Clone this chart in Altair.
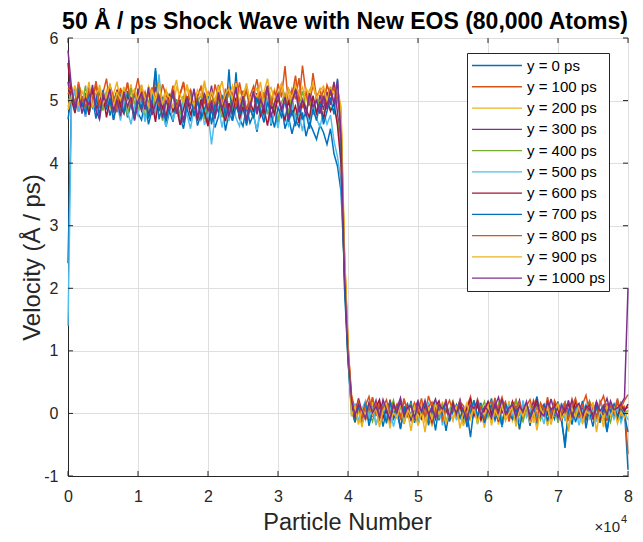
import altair as alt
import pandas as pd

# ---------------- series meta ----------------
series_names = ["y = 0 ps", "y = 100 ps", "y = 200 ps", "y = 300 ps", "y = 400 ps",
                "y = 500 ps", "y = 600 ps", "y = 700 ps", "y = 800 ps", "y = 900 ps",
                "y = 1000 ps"]
series_colors = ["#0072BD", "#D95319", "#EDB120", "#7E2F8E", "#77AC30", "#4DBEEE",
                 "#A2142F", "#0072BD", "#D95319", "#EDB120", "#7E2F8E"]

x_ticks = [0, 10000, 20000, 30000, 40000, 50000, 60000, 70000, 80000]
y_ticks = [-1, 0, 1, 2, 3, 4, 5, 6]

# value at particle 0, at the shock front (3.95e4 and 4.0e4) and at particle 80000
start_values = [2.40, 5.10, 4.90, 5.30, 5.00, 1.40, 5.60, 4.70, 5.20, 4.85, 5.80]
front_values = [2.30, 2.50, 2.60, 2.20, 2.10, 2.40, 2.20, 2.00, 2.45, 2.55, 2.25]
foot_values = [0.95, 1.05, 1.10, 0.90, 0.85, 0.90, 1.00, 0.85, 1.10, 1.15, 0.95]
end_values = [-0.90, -0.65, 0.00, 0.10, 0.05, -0.10, 0.15, -0.30, 0.30, 0.05, 2.00]

# ---------------- shocked region (0.05e4 .. 3.9e4) ----------------
upper_0 = [5.05, 4.82, 5.21, 4.90, 5.12, 4.78, 5.03, 4.71, 5.18, 4.88, 5.07, 4.76, 4.99, 5.15, 4.84, 5.02, 4.73, 4.95, 5.10, 4.80,
           4.69, 4.98, 4.62, 4.85, 5.47, 4.70, 4.91, 4.58, 4.83, 4.66, 5.02, 4.74, 4.55, 4.88, 4.67, 4.97, 4.60, 4.79, 5.08, 4.63,
           4.86, 4.57, 4.75, 4.94, 4.52, 4.81, 4.68, 5.45, 4.71, 4.59, 4.90, 4.64, 4.78, 4.50, 4.87, 4.69, 5.01, 4.60, 4.83, 4.66,
           4.92, 4.55, 4.74, 4.47, 4.70, 4.58, 4.81, 4.43, 4.65, 4.52, 4.38, 4.61, 4.49, 4.30, 4.55, 4.15, 3.95, 3.55]
upper_1 = [5.22, 4.91, 5.30, 5.02, 4.85, 5.18, 4.96, 5.27, 4.88, 5.12, 5.35, 4.93, 5.08, 4.81, 5.20, 5.01, 5.29, 4.90, 5.14, 4.98,
           5.25, 4.86, 5.11, 4.95, 5.32, 5.04, 4.83, 5.17, 4.99, 5.24, 4.89, 5.09, 5.28, 4.92, 5.15, 4.84, 5.06, 5.21, 4.97, 5.13,
           4.87, 5.26, 5.03, 4.90, 5.19, 4.80, 5.10, 5.31, 4.94, 5.16, 4.85, 5.07, 5.23, 4.96, 5.12, 4.82, 5.20, 5.00, 4.91, 5.27,
           5.05, 5.55, 4.93, 5.18, 5.02, 5.36, 4.88, 5.14, 4.97, 5.25, 5.04, 4.86, 5.19, 5.01, 5.22, 4.95, 5.10, 4.60]
upper_2 = [5.12, 4.95, 5.28, 5.03, 4.88, 5.21, 5.07, 4.92, 5.25, 5.00, 5.16, 4.86, 5.10, 5.30, 4.97, 5.14, 5.02, 5.26, 4.91, 5.18,
           5.05, 4.89, 5.23, 5.11, 4.94, 5.29, 5.01, 5.17, 4.87, 5.13, 5.33, 4.98, 5.08, 5.22, 4.93, 5.15, 5.04, 4.90, 5.27, 5.06,
           5.19, 4.96, 5.12, 5.31, 4.99, 5.09, 5.24, 4.92, 5.16, 5.03, 5.28, 4.95, 5.11, 5.20, 4.88, 5.14, 5.35, 5.02, 5.18, 4.97,
           5.25, 5.07, 5.13, 4.94, 5.29, 5.10, 5.21, 5.00, 5.17, 5.26, 5.05, 5.19, 4.98, 5.23, 5.12, 5.28, 5.15, 4.85]
upper_3 = [4.95, 5.18, 4.82, 5.07, 4.74, 5.21, 4.90, 5.12, 4.78, 5.02, 4.87, 5.26, 4.69, 5.09, 4.93, 5.16, 4.80, 5.04, 4.72, 5.19,
           4.88, 5.10, 4.76, 4.97, 5.22, 4.84, 5.05, 4.70, 4.99, 5.14, 4.79, 5.01, 4.65, 4.92, 5.17, 4.83, 5.06, 4.73, 5.11, 4.89,
           5.24, 4.77, 5.00, 4.86, 5.13, 4.71, 4.96, 5.20, 4.81, 5.08, 4.67, 4.94, 5.15, 4.85, 5.03, 4.75, 5.18, 4.91, 4.78, 5.10,
           4.83, 5.06, 4.72, 4.98, 5.21, 4.87, 5.02, 4.76, 5.12, 4.90, 4.80, 5.09, 4.85, 5.14, 4.93, 5.30, 4.80, 4.30]
upper_4 = [5.08, 4.86, 5.15, 4.93, 5.24, 4.80, 5.04, 4.91, 5.19, 4.84, 5.11, 4.97, 4.79, 5.13, 4.90, 5.06, 4.75, 5.20, 4.95, 4.83,
           5.09, 4.72, 4.98, 5.16, 4.87, 5.03, 4.68, 4.94, 5.12, 4.81, 5.00, 4.74, 5.07, 4.89, 5.18, 4.77, 4.96, 5.10, 4.70, 4.99,
           5.14, 4.85, 5.02, 4.73, 4.92, 5.17, 4.82, 5.05, 4.76, 4.95, 5.21, 4.88, 4.71, 5.01, 4.90, 5.13, 4.78, 5.04, 4.86, 4.69,
           4.97, 5.11, 4.80, 5.06, 4.74, 4.93, 5.15, 4.84, 5.00, 4.77, 5.08, 4.89, 4.73, 5.02, 4.87, 4.85, 4.70, 4.20]
upper_5 = [4.95, 5.16, 4.82, 5.05, 4.74, 5.12, 4.88, 4.99, 4.71, 5.08, 4.85, 5.20, 4.77, 4.96, 4.68, 5.02, 4.83, 4.62, 4.91, 4.76,
           5.04, 4.66, 4.89, 5.10, 4.73, 5.42, 4.80, 4.58, 4.93, 4.70, 4.86, 4.64, 5.00, 4.78, 4.55, 4.87, 4.69, 4.95, 4.61, 4.81,
           4.30, 4.74, 4.92, 4.57, 4.84, 4.67, 5.03, 4.72, 4.59, 4.88, 4.65, 4.97, 4.76, 4.53, 4.85, 4.70, 5.05, 4.63, 4.82, 4.56,
           4.90, 4.73, 4.60, 4.94, 4.68, 4.79, 4.51, 4.86, 4.66, 4.98, 4.71, 4.58, 4.83, 4.62, 4.77, 4.35, 4.10, 3.70]
upper_6 = [5.02, 4.80, 5.14, 4.92, 5.06, 4.77, 5.19, 4.88, 4.99, 5.11, 4.73, 5.03, 4.86, 5.17, 4.91, 4.79, 5.08, 4.95, 4.70, 5.01,
           4.84, 5.13, 4.75, 4.97, 4.66, 5.05, 4.89, 4.72, 5.10, 4.83, 4.94, 4.61, 4.87, 5.07, 4.76, 4.98, 4.68, 5.02, 4.81, 4.59,
           4.93, 4.74, 5.09, 4.85, 4.67, 4.96, 4.78, 5.04, 4.71, 4.90, 4.63, 4.99, 4.82, 5.12, 4.75, 4.88, 4.60, 4.95, 4.79, 5.06,
           4.84, 4.69, 5.00, 4.77, 4.91, 4.64, 5.03, 4.86, 4.73, 5.08, 4.80, 4.97, 4.70, 5.01, 4.83, 4.95, 4.60, 4.00]
upper_7 = [5.10, 4.85, 5.22, 4.96, 4.78, 5.13, 4.90, 5.05, 4.74, 5.17, 4.88, 5.01, 4.69, 4.94, 5.08, 4.80, 5.15, 4.92, 4.76, 5.03,
           4.87, 5.12, 4.71, 4.97, 5.52, 4.83, 5.06, 4.67, 4.93, 5.10, 4.79, 4.99, 4.64, 4.90, 5.14, 4.75, 5.00, 4.70, 4.86, 5.07,
           4.62, 4.95, 4.81, 5.09, 4.73, 5.50, 4.68, 4.91, 4.77, 5.04, 4.60, 4.88, 4.72, 5.06, 4.84, 4.65, 4.98, 4.79, 4.57, 4.89,
           4.74, 5.02, 4.66, 4.85, 4.59, 4.92, 4.71, 4.80, 4.55, 4.87, 4.68, 4.96, 4.62, 4.83, 5.05, 4.78, 5.35, 4.40]
upper_8 = [5.15, 4.93, 5.27, 5.04, 4.89, 5.19, 5.00, 5.31, 4.91, 5.12, 4.97, 5.24, 5.06, 4.87, 5.17, 5.02, 5.28, 4.94, 5.10, 5.36,
           4.99, 5.14, 4.88, 5.21, 5.05, 4.92, 5.26, 5.09, 4.95, 5.18, 4.86, 5.11, 5.30, 4.98, 5.16, 4.90, 5.07, 5.22, 5.01, 4.85,
           5.13, 4.96, 5.25, 5.03, 4.89, 5.20, 5.08, 4.93, 5.29, 5.00, 5.15, 4.87, 5.11, 5.34, 4.97, 5.06, 5.23, 4.91, 5.14, 5.02,
           5.27, 4.95, 5.19, 5.07, 5.40, 4.98, 5.56, 5.10, 4.92, 5.44, 5.05, 5.17, 4.94, 5.25, 5.09, 5.20, 5.03, 4.70]
upper_9 = [5.06, 5.24, 4.92, 5.15, 5.01, 5.30, 4.89, 5.11, 5.20, 4.95, 5.07, 5.27, 4.90, 5.13, 5.02, 5.22, 4.87, 5.09, 5.18, 4.98,
           5.25, 5.04, 4.91, 5.16, 5.00, 5.29, 4.94, 5.12, 5.05, 4.88, 5.21, 5.10, 4.97, 5.26, 5.03, 4.93, 5.17, 5.08, 5.32, 4.96,
           5.14, 5.00, 5.23, 4.90, 5.11, 5.19, 5.02, 5.28, 4.95, 5.09, 5.24, 4.99, 5.13, 5.06, 5.30, 4.92, 5.15, 5.21, 5.01, 5.10,
           5.27, 4.98, 5.18, 5.05, 5.24, 5.12, 4.97, 5.20, 5.08, 5.29, 5.03, 5.16, 5.23, 5.00, 5.19, 5.10, 5.18, 4.90]
upper_10 = [5.20, 4.88, 5.11, 4.79, 5.04, 4.93, 5.25, 4.84, 4.70, 5.09, 4.96, 5.18, 4.81, 5.02, 4.75, 5.14, 4.90, 5.06, 4.68, 4.99,
            5.12, 4.86, 5.21, 4.77, 4.95, 5.08, 4.72, 5.00, 4.85, 5.16, 4.80, 4.97, 4.66, 5.05, 4.89, 5.19, 4.74, 4.93, 5.10, 4.83,
            4.98, 4.71, 5.13, 4.87, 5.03, 4.76, 4.94, 5.22, 4.82, 5.07, 4.69, 4.91, 5.15, 4.78, 5.01, 4.88, 5.24, 4.73, 4.96, 5.11,
            4.84, 5.06, 4.70, 4.99, 5.17, 4.81, 5.02, 4.75, 5.12, 4.90, 5.00, 4.79, 5.08, 4.86, 5.18, 4.95, 5.32, 4.45]

# ---------------- unshocked region (4.05e4 .. 7.95e4) ----------------
lower_0 = [0.22, -0.05, 0.15, -0.18, 0.08, -0.12, 0.25, -0.02, 0.11, -0.21, 0.05, 0.18, -0.09, 0.02, -0.25, 0.12, -0.04, 0.20, -0.15, 0.07,
           -0.08, 0.16, -0.19, 0.03, 0.21, -0.11, 0.09, -0.28, 0.04, 0.14, -0.06, 0.19, -0.17, 0.01, -0.38, 0.10, -0.03, 0.17, -0.13, 0.06,
           0.24, -0.10, 0.08, -0.22, 0.13, -0.01, 0.19, -0.14, 0.05, -0.07, 0.15, -0.20, 0.09, 0.27, -0.05, 0.12, -0.16, 0.03, -0.09, 0.18,
           -0.12, -0.48, 0.06, -0.18, 0.14, -0.03, 0.20, -0.24, 0.07, -0.08, 0.16, -0.15, 0.04, -0.30, 0.11, -0.06, 0.21, -0.10, 0.05]
lower_1 = [0.30, 0.05, 0.21, -0.08, 0.14, 0.02, 0.26, -0.04, 0.17, 0.08, -0.12, 0.22, 0.01, 0.15, -0.06, 0.24, 0.03, 0.12, -0.10, 0.19,
           0.06, -0.03, 0.28, 0.09, -0.07, 0.16, 0.00, 0.23, -0.11, 0.13, 0.04, 0.20, -0.05, 0.11, 0.27, -0.02, 0.18, 0.07, -0.09, 0.14,
           0.01, 0.25, -0.06, 0.10, 0.19, -0.13, 0.08, 0.22, -0.01, 0.15, 0.03, -0.08, 0.21, 0.06, 0.12, -0.04, 0.26, 0.02, 0.16, -0.10,
           0.09, 0.18, -0.03, 0.23, 0.05, -0.07, 0.14, 0.29, 0.01, 0.11, -0.05, 0.20, 0.07, -0.12, 0.15, 0.03, 0.24, -0.02, 0.10]
lower_2 = [0.10, -0.15, 0.05, -0.22, 0.12, -0.06, 0.18, -0.19, 0.02, -0.10, 0.15, -0.24, 0.07, -0.03, 0.13, -0.17, 0.04, -0.28, 0.09, -0.08,
           0.16, -0.13, 0.01, -0.21, 0.11, -0.05, 0.19, -0.16, 0.06, -0.11, 0.14, -0.02, -0.20, 0.08, -0.09, 0.17, -0.14, 0.03, -0.23, 0.10,
           -0.04, 0.13, -0.18, 0.05, -0.07, 0.20, -0.12, 0.02, -0.26, 0.09, -0.01, 0.15, -0.15, 0.04, -0.09, 0.12, -0.20, 0.07, -0.03, 0.16,
           -0.11, 0.01, -0.29, 0.08, -0.06, 0.14, -0.17, 0.03, -0.08, 0.18, -0.13, 0.06, -0.22, 0.10, -0.04, 0.12, -0.10, 0.05, -0.02]
lower_3 = [0.18, -0.02, 0.24, 0.03, -0.10, 0.15, 0.06, 0.21, -0.07, 0.12, 0.01, 0.19, -0.05, 0.09, 0.25, -0.01, 0.14, -0.09, 0.08, 0.20,
           0.02, 0.16, -0.06, 0.11, 0.23, -0.03, 0.07, 0.17, -0.08, 0.13, 0.04, 0.22, -0.04, 0.10, 0.18, 0.00, 0.15, -0.11, 0.06, 0.19,
           -0.02, 0.12, 0.26, 0.01, 0.09, -0.07, 0.17, 0.05, 0.21, -0.05, 0.11, 0.02, 0.18, -0.09, 0.08, 0.14, -0.01, 0.23, 0.03, 0.10,
           -0.06, 0.16, 0.04, 0.20, -0.03, 0.12, 0.07, -0.10, 0.15, 0.01, 0.19, -0.04, 0.09, 0.24, 0.02, 0.13, -0.07, 0.17, 0.06]
lower_4 = [0.08, -0.11, 0.14, -0.04, 0.19, 0.02, -0.13, 0.10, -0.02, 0.17, -0.08, 0.06, 0.21, -0.05, 0.12, -0.16, 0.04, 0.15, -0.09, 0.07,
           -0.01, 0.18, -0.12, 0.09, 0.03, -0.07, 0.16, -0.14, 0.05, 0.20, -0.03, 0.11, -0.10, 0.08, 0.01, 0.14, -0.17, 0.06, 0.19, -0.06,
           0.10, -0.02, 0.16, -0.11, 0.04, 0.13, -0.08, 0.22, 0.00, -0.13, 0.09, 0.05, -0.06, 0.17, -0.10, 0.07, 0.12, -0.04, 0.15, -0.15,
           0.03, 0.18, -0.07, 0.10, -0.01, 0.14, -0.12, 0.06, 0.20, -0.05, 0.08, -0.09, 0.13, 0.02, -0.14, 0.11, -0.03, 0.16, 0.01]
lower_5 = [-0.03, 0.16, -0.12, 0.07, 0.20, -0.08, 0.11, -0.18, 0.04, 0.14, -0.06, 0.09, -0.21, 0.02, 0.17, -0.10, 0.06, -0.01, 0.13, -0.15,
           0.08, -0.04, 0.18, -0.09, 0.03, 0.12, -0.19, 0.05, -0.02, 0.15, -0.11, 0.10, 0.01, -0.16, 0.07, 0.19, -0.05, 0.11, -0.13, 0.04,
           0.16, -0.07, 0.09, -0.20, 0.02, 0.13, -0.03, 0.08, -0.14, 0.21, -0.06, 0.05, 0.12, -0.10, 0.03, -0.17, 0.14, 0.00, 0.09, -0.08,
           0.17, -0.12, 0.06, -0.02, 0.11, -0.19, 0.04, 0.15, -0.07, 0.08, -0.13, 0.18, 0.01, -0.05, 0.12, -0.09, 0.07, -0.15, 0.03]
lower_6 = [0.12, -0.06, 0.18, 0.02, -0.09, 0.15, -0.03, 0.10, 0.22, -0.07, 0.06, -0.12, 0.14, 0.01, 0.19, -0.05, 0.08, -0.10, 0.16, 0.03,
           -0.08, 0.13, 0.05, -0.14, 0.11, 0.20, -0.02, 0.07, -0.11, 0.17, 0.00, 0.12, -0.06, 0.09, 0.23, -0.04, 0.14, -0.09, 0.06, 0.18,
           -0.01, 0.10, -0.13, 0.15, 0.04, -0.07, 0.19, 0.02, 0.11, -0.05, 0.16, -0.10, 0.08, 0.21, -0.03, 0.13, 0.01, -0.08, 0.17, 0.05,
           -0.12, 0.09, 0.14, -0.04, 0.20, 0.03, -0.09, 0.12, 0.06, -0.02, 0.18, -0.11, 0.07, 0.15, 0.00, 0.10, -0.06, 0.13, 0.04]
lower_7 = [0.06, -0.14, 0.11, -0.05, 0.17, -0.20, 0.03, 0.13, -0.09, 0.08, -0.16, 0.19, -0.02, 0.10, -0.24, 0.05, 0.15, -0.07, 0.12, -0.18,
           0.02, 0.16, -0.10, 0.07, -0.27, 0.11, -0.03, 0.18, -0.13, 0.04, 0.14, -0.08, 0.09, -0.22, 0.01, 0.21, -0.06, 0.10, -0.15, 0.05,
           0.13, -0.11, 0.07, -0.19, 0.16, 0.00, -0.09, 0.12, -0.25, 0.06, 0.17, -0.04, 0.09, -0.16, 0.03, 0.14, -0.12, 0.08, -0.02, 0.19,
           -0.07, -0.55, 0.05, 0.11, -0.14, 0.06, 0.16, -0.10, 0.02, -0.21, 0.13, -0.05, 0.10, -0.28, 0.04, 0.15, -0.09, 0.07, -0.03]
lower_8 = [0.25, 0.04, 0.19, -0.06, 0.13, 0.27, 0.02, 0.16, -0.09, 0.10, 0.22, -0.01, 0.14, 0.06, -0.08, 0.20, 0.09, -0.04, 0.17, 0.03,
           0.24, -0.05, 0.11, 0.18, 0.00, 0.15, -0.10, 0.08, 0.21, 0.05, -0.03, 0.19, 0.12, -0.07, 0.16, 0.01, 0.23, 0.07, -0.06, 0.13,
           0.20, -0.02, 0.10, 0.26, 0.04, -0.09, 0.15, 0.08, 0.18, -0.04, 0.12, 0.22, 0.02, -0.11, 0.17, 0.06, 0.13, -0.05, 0.21, 0.09,
           0.00, 0.16, -0.08, 0.11, 0.24, 0.03, 0.14, -0.03, 0.19, 0.07, -0.06, 0.15, 0.28, 0.05, 0.12, -0.02, 0.18, 0.08, 0.21]
lower_9 = [-0.05, 0.12, -0.18, 0.07, -0.10, 0.16, -0.02, 0.09, -0.22, 0.04, 0.14, -0.13, 0.01, -0.07, 0.18, -0.16, 0.06, -0.04, 0.11, -0.20,
           0.03, -0.30, 0.10, -0.09, 0.15, -0.01, 0.08, -0.17, 0.05, -0.11, 0.13, -0.24, 0.02, 0.17, -0.06, 0.09, -0.14, 0.04, -0.02, 0.12,
           -0.19, 0.06, -0.08, 0.16, -0.12, 0.01, 0.10, -0.21, 0.07, -0.05, 0.14, -0.15, 0.03, -0.27, 0.09, -0.03, 0.11, -0.18, 0.05, 0.15,
           -0.09, 0.02, -0.23, 0.08, -0.06, 0.13, -0.14, 0.04, -0.01, 0.17, -0.30, 0.06, -0.10, 0.12, -0.04, 0.09, -0.16, 0.03, -0.07]
lower_10 = [0.20, -0.03, 0.14, 0.05, -0.08, 0.17, 0.01, 0.11, -0.05, 0.22, 0.06, -0.10, 0.15, 0.02, 0.19, -0.04, 0.09, 0.13, -0.07, 0.16,
            0.03, 0.21, -0.02, 0.10, -0.09, 0.14, 0.07, 0.18, -0.06, 0.12, 0.00, 0.17, 0.04, -0.11, 0.13, 0.08, 0.20, -0.03, 0.11, 0.05,
            -0.08, 0.16, 0.02, 0.23, -0.01, 0.09, 0.14, -0.06, 0.12, 0.03, 0.19, -0.09, 0.07, 0.15, 0.01, -0.04, 0.18, 0.06, 0.11, -0.07,
            0.14, 0.02, 0.21, -0.05, 0.10, 0.16, -0.02, 0.08, 0.13, -0.10, 0.17, 0.04, 0.12, -0.03, 0.20, 0.06, 0.09, 0.15, 0.25]

upper_all = [upper_0, upper_1, upper_2, upper_3, upper_4, upper_5, upper_6, upper_7, upper_8, upper_9, upper_10]
lower_all = [lower_0, lower_1, lower_2, lower_3, lower_4, lower_5, lower_6, lower_7, lower_8, lower_9, lower_10]

# ---------------- long table ----------------
rows = []
for k, name in enumerate(series_names):
    up, lo = upper_all[k], lower_all[k]
    xs = ([0]
          + [500 + j * 38500 / (len(up) - 1) for j in range(len(up))]
          + [39500, 40000]
          + [40500 + j * 39000 / (len(lo) - 1) for j in range(len(lo))]
          + [80000])
    ys = [start_values[k]] + up + [front_values[k], foot_values[k]] + lo + [end_values[k]]
    for xv, yv in zip(xs, ys):
        rows.append({"particle": xv, "velocity": yv, "series": name})
df = pd.DataFrame(rows)

W, H = 560, 438
FONT = "Liberation Sans"
INK = "#262626"

x_scale = alt.Scale(domain=[0, 80000], nice=False, zero=False)
y_scale = alt.Scale(domain=[-1, 6], nice=False, zero=False)

x_axis = alt.Axis(values=x_ticks, labelExpr="'' + (datum.value / 10000)",
                  title="Particle Number", titleX=W / 2 - 1, titleY=53,
                  titleBaseline="alphabetic", titleFontSize=23.5, labelPadding=12,
                  tickSize=0, labelFlush=False, labelOverlap=False, grid=True)
y_axis = alt.Axis(values=y_ticks, labelExpr="'' + datum.value",
                  title="Velocity (Å / ps)", titleX=-36,
                  titleY=H / 2, titleBaseline="middle", labelPadding=10,
                  tickSize=0, labelFlush=False, labelOverlap=False, grid=True)

lines = alt.Chart(df).mark_line(strokeWidth=1.5).encode(
    x=alt.X("particle:Q", scale=x_scale, axis=x_axis),
    y=alt.Y("velocity:Q", scale=y_scale, axis=y_axis),
    color=alt.Color("series:N",
                    scale=alt.Scale(domain=series_names, range=series_colors),
                    legend=alt.Legend(title=None, orient="none", legendX=399, legendY=15,
                                      symbolType="stroke", symbolSize=2500,
                                      symbolStrokeWidth=1.3, clipHeight=17,
                                      rowPadding=4.27, padding=4, labelOffset=4,
                                      labelFont=FONT, labelFontSize=15,
                                      labelColor="#000000", strokeColor=INK,
                                      fillColor="white")),
)

xt = pd.DataFrame({"particle": x_ticks})
yt = pd.DataFrame({"velocity": y_ticks})
tick_style = dict(color=INK, strokeWidth=1)
bottom_ticks = alt.Chart(xt).mark_rule(**tick_style).encode(
    x=alt.X("particle:Q", scale=x_scale), y=alt.value(H), y2=alt.value(H - 5))
top_ticks = alt.Chart(xt).mark_rule(**tick_style).encode(
    x=alt.X("particle:Q", scale=x_scale), y=alt.value(0), y2=alt.value(5))
left_ticks = alt.Chart(yt).mark_rule(**tick_style).encode(
    y=alt.Y("velocity:Q", scale=y_scale), x=alt.value(0), x2=alt.value(5))
right_ticks = alt.Chart(yt).mark_rule(**tick_style).encode(
    y=alt.Y("velocity:Q", scale=y_scale), x=alt.value(W), x2=alt.value(W - 5))

mult = alt.Chart(pd.DataFrame({"t": ["×10"]})).mark_text(
    align="right", baseline="alphabetic", font=FONT, fontSize=15, color=INK
).encode(text="t:N", x=alt.value(552), y=alt.value(494))
expo = alt.Chart(pd.DataFrame({"t": ["4"]})).mark_text(
    align="left", baseline="alphabetic", font=FONT, fontSize=11, color=INK
).encode(text="t:N", x=alt.value(553), y=alt.value(485))

chart = alt.layer(lines, bottom_ticks, top_ticks, left_ticks, right_ticks, mult, expo).properties(
    width=W, height=H,
    title=alt.TitleParams(text="50 Å / ps Shock Wave with New EOS (80,000 Atoms)",
                          font=FONT, fontSize=23, fontWeight="bold", color="#000000",
                          anchor="middle", frame="group", dx=-3, offset=0, dy=4),
    autosize=alt.AutoSizeParams(type="none"),
    padding={"left": 60, "top": 30, "right": 7, "bottom": 58},
).configure_view(
    stroke=INK, strokeWidth=1
).configure_axis(
    domainColor=INK, domainWidth=1, gridColor="#dfdfdf", gridWidth=1,
    labelFont=FONT, labelFontSize=16, labelColor=INK,
    titleFont=FONT, titleFontSize=24, titleFontWeight="normal", titleColor=INK,
)

chart.save("out.html", embed_options={"renderer": "svg", "actions": False})
